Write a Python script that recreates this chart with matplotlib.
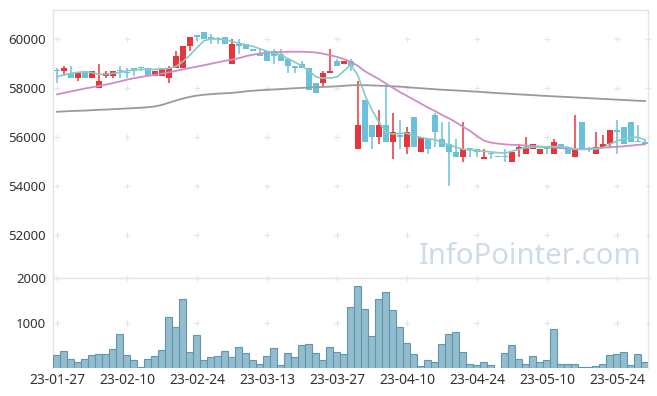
import numpy as np
import matplotlib.pyplot as plt

# === DATA ===
dates = ['23-01-27', '23-01-30', '23-01-31',
         '23-02-01', '23-02-02', '23-02-03', '23-02-06', '23-02-07', '23-02-08', '23-02-09',
         '23-02-10', '23-02-13', '23-02-14', '23-02-15', '23-02-16', '23-02-17', '23-02-20',
         '23-02-21', '23-02-22', '23-02-23', '23-02-24', '23-02-27', '23-02-28',
         '23-03-02', '23-03-03', '23-03-06', '23-03-07', '23-03-08', '23-03-09', '23-03-10',
         '23-03-13', '23-03-14', '23-03-15', '23-03-16', '23-03-17', '23-03-20', '23-03-21',
         '23-03-22', '23-03-23', '23-03-24', '23-03-27', '23-03-28', '23-03-29', '23-03-30',
         '23-03-31',
         '23-04-03', '23-04-04', '23-04-05', '23-04-06', '23-04-07', '23-04-10', '23-04-11',
         '23-04-12', '23-04-13', '23-04-14', '23-04-17', '23-04-18', '23-04-19', '23-04-20',
         '23-04-21', '23-04-24', '23-04-25', '23-04-26', '23-04-27', '23-04-28',
         '23-05-02', '23-05-03', '23-05-04', '23-05-08', '23-05-09', '23-05-10', '23-05-11',
         '23-05-12', '23-05-15', '23-05-16', '23-05-17', '23-05-18', '23-05-19', '23-05-22',
         '23-05-23', '23-05-24', '23-05-25', '23-05-26', '23-05-30', '23-05-31']

opens = [58700, 58700, 58600, 58400, 58700, 58400, 58000, 58500, 58500, 58700,
         58600, 58800, 58800, 58800, 58500, 58500, 58400, 58800, 58800, 59700,
         60100, 60300, 60100, 60000, 60100, 59000, 59800, 59800, 59600, 59400,
         59500, 59500, 59400, 59200, 58900, 59000, 58800, 58200, 58200, 58600,
         59100, 59000, 59100, 55500, 57500, 56500, 56000, 56500, 55800, 56100,
         55600, 56800, 55400, 55900, 56900, 55900, 55700, 55400, 55200, 55500,
         55500, 55100, 55300, 55200, 55200, 55000, 55500, 55300, 55500, 55300,
         55500, 55300, 55700, 55500, 55200, 56600, 55500, 55300, 55600, 55700,
         56300, 56400, 56600, 55800, 55800]
closes = [58700, 58800, 58400, 58600, 58400, 58700, 58300, 58600, 58700, 58700,
          58600, 58700, 58800, 58500, 58700, 58800, 58800, 59300, 59700, 60100,
          60100, 60000, 60000, 60000, 59800, 59800, 59700, 59600, 59500, 59300,
          59100, 59300, 59100, 58900, 58800, 58800, 57900, 57800, 58600, 58700,
          58900, 59100, 58900, 56500, 55800, 56000, 56500, 55800, 56200, 56000,
          56200, 55600, 56000, 55500, 56200, 55600, 55400, 55200, 55500, 55500,
          55400, 55200, 55300, 55200, 55200, 55400, 55600, 55600, 55700, 55500,
          55500, 55800, 55500, 55300, 55500, 55500, 55500, 55600, 55700, 56300,
          56200, 55700, 55800, 55800, 55700]
highs = [58800, 58900, 58900, 58600, 58700, 58700, 59000, 58700, 58700, 58900,
         58800, 58800, 58800, 58800, 58700, 58800, 58900, 59500, 59700, 60100,
         60100, 60300, 60200, 60100, 60100, 60000, 60000, 59800, 59600, 59600,
         59500, 59600, 59600, 59200, 58900, 59100, 58800, 58200, 58700, 59600,
         59200, 59100, 59200, 58300, 57500, 56500, 57100, 58100, 57000, 56700,
         56400, 56800, 56000, 55900, 57000, 56600, 56600, 55900, 56600, 55500,
         55500, 55500, 55300, 55200, 55500, 55400, 55700, 56000, 55700, 55500,
         55500, 55900, 55700, 55600, 56900, 56600, 55600, 56200, 56100, 56300,
         56700, 56400, 56600, 56500, 55900]
lows = [58200, 58500, 58400, 58300, 58400, 58400, 58000, 58400, 58400, 58400,
        58400, 58500, 58700, 58500, 58500, 58500, 58200, 58800, 58800, 59500,
        59900, 60000, 59800, 59800, 59800, 59000, 59400, 59600, 59500, 59300,
        59100, 59000, 59100, 58600, 58600, 58800, 57900, 57800, 58100, 58600,
        58900, 59000, 58700, 55500, 55800, 55500, 55700, 55800, 55100, 55500,
        55300, 55600, 55400, 55300, 55600, 55600, 54000, 55200, 55000, 55200,
        55200, 55100, 55100, 55200, 55000, 55000, 55200, 55300, 55500, 55300,
        55300, 55300, 55500, 55300, 55200, 55500, 55400, 55300, 55600, 55600,
        55300, 55700, 55800, 55800, 55700]
volumes = [269, 366, 179, 134, 179, 269, 291, 291, 404, 741,
           269, 164, 22, 179, 246, 381, 1123, 898, 1527, 336,
           718, 164, 224, 246, 366, 224, 449, 314, 164, 89,
           246, 426, 67, 314, 224, 494, 516, 314, 164, 449,
           357, 291, 1347, 1819, 1302, 695, 1527, 1684, 1279, 898,
           539, 291, 44, 157, 112, 516, 741, 786, 357, 89,
           67, 112, 67, 0, 314, 494, 201, 89, 246, 134,
           157, 854, 89, 89, 89, 22, 22, 44, 89, 269,
           291, 336, 67, 291, 112]

ma5 = [58460, 58540, 58600, 58640, 58670, 58630, 58560, 58560, 58600, 58640,
       58700, 58740, 58760, 58760, 58760, 58780, 58800, 58880, 59080, 59350,
       59650, 59930, 60000, 60000, 59970, 59900, 59830, 59760, 59700, 59600,
       59500, 59420, 59350, 59200, 59050, 58900, 58700, 58450, 58400, 58410,
       58450, 58700, 58950, 58500, 57700, 57100, 56600, 56200, 56120, 56150,
       56150, 56050, 55980, 55920, 55900, 55760, 55680, 55580, 55500, 55470,
       55440, 55420, 55390, 55360, 55340, 55420, 55500, 55560, 55590, 55600,
       55600, 55610, 55600, 55580, 55500, 55490, 55500, 55500, 55560, 55720,
       55830, 55950, 55990, 55990, 55880]
ma20 = [57740, 57800, 57860, 57920, 57980, 58030, 58080, 58140, 58200, 58270,
        58340, 58400, 58450, 58500, 58540, 58590, 58640, 58700, 58760, 58820,
        58870, 58930, 58990, 59050, 59110, 59160, 59220, 59300, 59360, 59410,
        59440, 59460, 59470, 59480, 59480, 59480, 59470, 59450, 59400, 59340,
        59270, 59180, 59060, 58900, 58680, 58520, 58360, 58180, 58000, 57830,
        57680, 57520, 57360, 57200, 57060, 56900, 56760, 56600, 56420, 56250,
        56040, 55850, 55770, 55730, 55700, 55680, 55670, 55650, 55630, 55610,
        55590, 55570, 55550, 55530, 55510, 55510, 55520, 55540, 55560, 55580,
        55600, 55620, 55650, 55680, 55700]
ma60 = [57030, 57045, 57060, 57070, 57080, 57095, 57110, 57120, 57135, 57150,
        57165, 57180, 57195, 57215, 57250, 57310, 57400, 57490, 57570, 57640,
        57690, 57725, 57750, 57770, 57785, 57800, 57830, 57865, 57890, 57910,
        57925, 57940, 57955, 57975, 57990, 58005, 58020, 58035, 58045, 58055,
        58070, 58090, 58110, 58120, 58115, 58105, 58095, 58085, 58070, 58055,
        58035, 58010, 57990, 57970, 57950, 57930, 57915, 57900, 57885, 57865,
        57850, 57830, 57810, 57790, 57775, 57760, 57740, 57725, 57710, 57690,
        57675, 57660, 57645, 57630, 57615, 57600, 57585, 57570, 57555, 57540,
        57525, 57510, 57495, 57480, 57470]

price_ticks = [52000, 54000, 56000, 58000, 60000]
vol_ticks = [1000, 2000]

UP = '#e8343b'
DOWN = '#6bc1db'
FRAME = '#e4e4e4'
plt.rcParams['font.family'] = ['Noto Sans', 'DejaVu Sans']

x = np.arange(len(dates))
o = np.array(opens)
c = np.array(closes)
colors = [UP if cc > oo else DOWN for oo, cc in zip(o, c)]
body_lo = np.minimum(o, c)
body_h = np.maximum(np.abs(c - o), 45)

fig = plt.figure(figsize=(6.57, 3.96), dpi=100)
ax = fig.add_axes([53 / 657, 1 - 278 / 396, 595 / 657, 268 / 396])
axv = fig.add_axes([53 / 657, 1 - 367.5 / 396, 595 / 657, 89.5 / 396])

# candles
ax.vlines(x, lows, highs, colors=colors, lw=1.1, zorder=2)
ax.bar(x, body_h, bottom=body_lo, width=0.72, color=colors, zorder=3)

# moving averages
ax.plot(x, ma60, color='#9a9a9a', lw=1.3, zorder=4)
ax.plot(x, ma20, color='#cb8ec7', lw=1.3, zorder=4)
ax.plot(x, ma5, color='#86ccc2', lw=1.2, zorder=5)

xlim = (-0.57, 84.43)
ax.set_xlim(*xlim)
ax.set_ylim(50245, 61184)
ax.set_yticks(price_ticks)
ax.set_xticks([])

# volume
axv.bar(x, volumes, width=1.0, color='#93bdcd', edgecolor='#5e97af', lw=0.8, zorder=3)
axv.set_xlim(*xlim)
axv.set_ylim(0, 2000)
axv.set_yticks(vol_ticks)
tick_idx = x[::10]
axv.set_xticks(tick_idx)
axv.set_xticklabels([dates[i] for i in tick_idx])

# cross-shaped grid marks
gx = list(tick_idx) + [xlim[1]]
for a, ys in ((ax, price_ticks), (axv, vol_ticks)):
    gxx, gyy = np.meshgrid(gx, ys)
    a.plot(gxx.ravel(), gyy.ravel(), ls='none', marker='+', ms=4, mew=0.8,
           color='#e6e6e6', zorder=1, clip_on=False)

for a in (ax, axv):
    for side in ('left', 'right', 'top'):
        a.spines[side].set_color(FRAME)
        a.spines[side].set_linewidth(1.0)
    a.spines['bottom'].set_visible(False)
    a.tick_params(length=0, labelsize=9.5, colors='#333333', pad=5)
ax.spines['bottom'].set_visible(True)
ax.spines['bottom'].set_color(FRAME)
axv.tick_params(axis='x', pad=4, labelsize=10)

fig.text(530 / 657, 1 - 256 / 396, 'InfoPointer.com', fontsize=21, color='#cddde8',
         ha='center', va='center', zorder=0)

fig.savefig('out.png', dpi=100)
